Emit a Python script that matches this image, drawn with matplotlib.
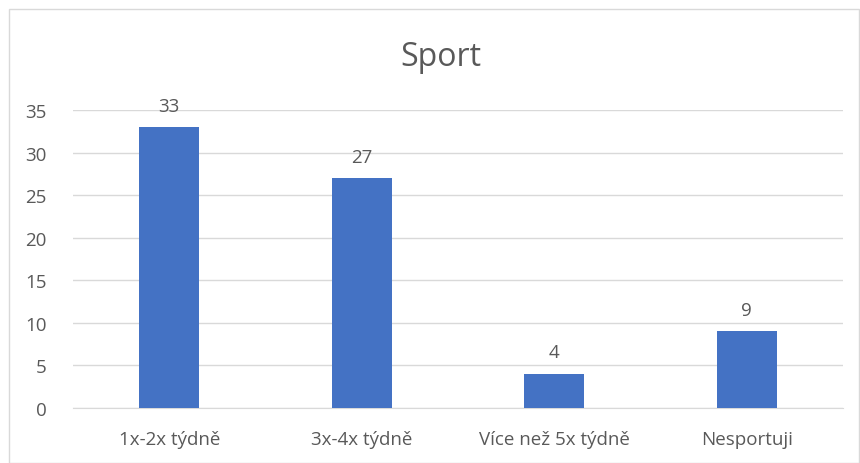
import matplotlib
matplotlib.use("Agg")
import matplotlib.pyplot as plt
from matplotlib.patches import Rectangle

categories = ["1x-2x týdně", "3x-4x týdně", "Více než 5x týdně", "Nesportuji"]
values = [33, 27, 4, 9]
yticks = [0, 5, 10, 15, 20, 25, 30, 35]

plt.rcParams['font.family'] = ['Open Sans', 'DejaVu Sans']
txt = '#595959'

fig = plt.figure(figsize=(8.6, 4.64), dpi=100)
fig.patches.append(Rectangle((9/860, 0.0), (859-9)/860, 1-10/464, transform=fig.transFigure,
                             fill=False, edgecolor='#d9d9d9', linewidth=1))
ax = fig.add_axes([73/860, 1-409/464, 770/860, 298/464])
x = list(range(len(categories)))
bars = ax.bar(x, values, width=0.31, color='#4472C4', zorder=3)
ax.set_xlim(-0.5, len(categories)-0.5)
ax.set_ylim(0, 35)
ax.set_yticks(yticks)
ax.set_xticks(x)
ax.set_xticklabels(categories)
ax.grid(axis='y', color='#d9d9d9', linewidth=1, zorder=0)
for s in ['top', 'right', 'left']:
    ax.spines[s].set_visible(False)
ax.spines['bottom'].set_color('#d9d9d9')
ax.tick_params(axis='both', length=0, labelsize=13.5, colors=txt)
ax.tick_params(axis='y', pad=19)
ax.tick_params(axis='x', pad=16)
for b, v in zip(bars, values):
    ax.annotate(str(v), (b.get_x()+b.get_width()/2, v), xytext=(0, 9), textcoords='offset points',
                ha='center', va='bottom', fontsize=13.5, color=txt)
fig.text(441/860, 1-58/464, "Sport", ha='center', va='center', fontsize=23, color=txt)
fig.savefig("out.png", dpi=100)
